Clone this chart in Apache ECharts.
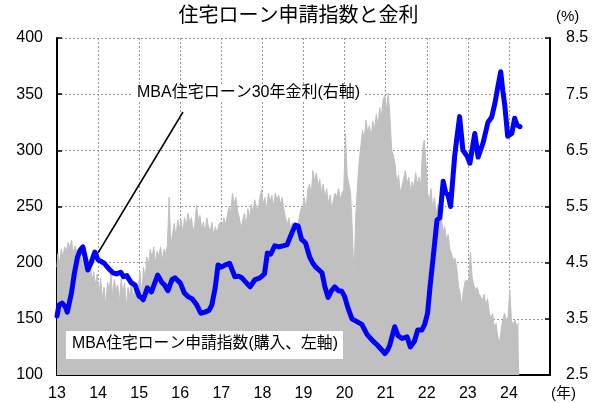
<!DOCTYPE html>
<html>
<head>
<meta charset="utf-8">
<script src="https://cdn.jsdelivr.net/npm/echarts@6/dist/echarts.min.js"></script>
<style>
  html, body { margin: 0; padding: 0; background: #fff; }
  #chart { width: 597px; height: 403px; }
</style>
</head>
<body>
<div id="chart"></div>
<script>
// MBA住宅ローン申請指数(購入) 半月ごと、2013年初から
const appStart = 2013;
const appPerYear = 24;
const appIndex = [
  196, 208, 200, 212, 205, 214, 210, 218, 213, 220, 208, 215, 210, 206, 212, 200, 204, 195, 202, 188, 197, 184, 192, 180,
  190, 172, 186, 168, 178, 162, 183, 175, 190, 170, 185, 176, 180, 165, 186, 172, 182, 160, 178, 170, 185, 166, 180, 174,
  178, 192, 170, 196, 185, 205, 198, 212, 204, 214, 200, 210, 206, 214, 202, 212, 208, 216, 258, 214, 226, 235, 222, 238,
  230, 238, 226, 240, 232, 244, 236, 240, 228, 234, 251, 238, 242, 230, 236, 226, 240, 232, 228, 236, 224, 232, 226, 234,
  236, 232, 240, 234, 242, 250, 244, 262, 252, 258, 246, 240, 230, 238, 244, 232, 248, 240, 252, 244, 256, 250, 246, 258,
  265, 252, 258, 246, 262, 254, 260, 250, 262, 256, 260, 252, 258, 248, 240, 234, 240, 230, 236, 228, 234, 232, 240, 248,
  250, 258, 246, 265, 270, 260, 282, 272, 280, 268, 274, 262, 270, 258, 266, 252, 260, 248, 256, 262, 258, 266, 256, 262,
  265, 315, 278, 270, 262, 230, 187, 240, 268, 290, 304, 318, 310, 327, 316, 322, 312, 326, 318, 332, 322, 338, 330, 345,
  349, 336, 351, 330, 300, 296, 288, 270, 278, 262, 268, 275, 282, 270, 276, 264, 272, 266, 280, 270, 276, 268, 300, 309,
  290, 262, 255, 266, 248, 258, 244, 252, 236, 240, 228, 232, 220, 225, 212, 208, 202, 204, 196, 180, 172, 162, 176, 184,
  184, 182, 209, 187, 180, 176, 178, 172, 170, 166, 172, 162, 168, 156, 150, 155, 142, 146, 134, 129, 140, 150, 155, 148,
  152, 176, 148, 145, 149, 143, 146
];

// MBA住宅ローン30年金利(%)
const rateDates = [
  2013.00, 2013.05, 2013.12, 2013.20, 2013.25, 2013.35, 2013.42, 2013.50, 2013.56, 2013.63,
  2013.70, 2013.75, 2013.83, 2013.92, 2014.00, 2014.08, 2014.15, 2014.25, 2014.36, 2014.45,
  2014.55, 2014.62, 2014.70, 2014.80, 2014.90, 2015.00, 2015.05, 2015.10, 2015.20, 2015.30,
  2015.45, 2015.55, 2015.62, 2015.70, 2015.80, 2015.87, 2016.00, 2016.10, 2016.20, 2016.30,
  2016.40, 2016.50, 2016.60, 2016.70, 2016.77, 2016.85, 2016.92, 2017.00, 2017.10, 2017.20,
  2017.33, 2017.42, 2017.50, 2017.60, 2017.70, 2017.82, 2017.94, 2018.05, 2018.12, 2018.20,
  2018.30, 2018.40, 2018.50, 2018.60, 2018.70, 2018.80, 2018.87, 2018.95, 2019.05, 2019.15,
  2019.22, 2019.30, 2019.45, 2019.52, 2019.60, 2019.68, 2019.76, 2019.85, 2019.93, 2020.00,
  2020.08, 2020.18, 2020.30, 2020.42, 2020.55, 2020.67, 2020.80, 2020.90, 2020.98, 2021.05,
  2021.10, 2021.22, 2021.30, 2021.40, 2021.52, 2021.60, 2021.70, 2021.78, 2021.88, 2021.95,
  2022.02, 2022.08, 2022.15, 2022.25, 2022.32, 2022.40, 2022.46, 2022.52, 2022.58, 2022.68,
  2022.73, 2022.80, 2022.88, 2022.98, 2023.05, 2023.17, 2023.25, 2023.37, 2023.49, 2023.58,
  2023.66, 2023.73, 2023.80, 2023.85, 2023.90, 2023.97, 2024.07, 2024.14, 2024.20, 2024.27
];
const rateValues = [
  3.55, 3.75, 3.78, 3.72, 3.62, 3.95, 4.30, 4.60, 4.72, 4.78,
  4.55, 4.37, 4.50, 4.69, 4.55, 4.52, 4.49, 4.40, 4.32, 4.30,
  4.33, 4.25, 4.27, 4.15, 4.10, 3.90, 3.88, 3.84, 4.05, 3.98,
  4.28, 4.15, 4.10, 4.00, 4.20, 4.23, 4.14, 3.96, 3.89, 3.85,
  3.75, 3.60, 3.62, 3.65, 3.75, 4.05, 4.46, 4.42, 4.46, 4.49,
  4.25, 4.26, 4.23, 4.15, 4.07, 4.20, 4.23, 4.30, 4.67, 4.65,
  4.80, 4.78, 4.80, 4.82, 5.00, 5.17, 5.15, 4.92, 4.85, 4.60,
  4.50, 4.42, 4.32, 4.07, 3.88, 4.00, 4.07, 4.00, 3.99, 3.90,
  3.70, 3.50, 3.45, 3.40, 3.22, 3.12, 3.03, 2.95, 2.88, 2.95,
  3.03, 3.36, 3.20, 3.15, 3.18, 3.00, 3.10, 3.30, 3.30, 3.40,
  3.60, 4.07, 4.55, 5.26, 5.30, 5.95, 5.75, 5.70, 5.50, 6.40,
  6.70, 7.10, 6.50, 6.40, 6.27, 6.80, 6.38, 6.63, 7.00, 7.09,
  7.34, 7.63, 7.90, 7.57, 7.30, 6.75, 6.80, 7.07, 6.95, 6.92
];

const chartTitle = '住宅ローン申請指数と金利';
const rateLabel = 'MBA住宅ローン30年金利(右軸)';
const appLabel = 'MBA住宅ローン申請指数(購入、左軸)';

const fontFam = '"Liberation Sans", Arial, "Noto Sans CJK JP", sans-serif';

const appData = appIndex.map((v, i) => [appStart + i / appPerYear, v]);
const rateData = rateDates.map((d, i) => [d, rateValues[i]]);

const myChart = echarts.init(document.getElementById('chart'));

const dotted = { show: true, lineStyle: { color: '#999', type: [2, 2], width: 1 } };

let option = {
    animation: false,
    backgroundColor: '#fff',
    textStyle: { fontFamily: fontFam },
    grid: { left: 57, right: 47, top: 38, bottom: 28 },
    xAxis: {
        type: 'value',
        min: 2013,
        max: 2025,
        interval: 1,
        axisLine: { show: true, onZero: false, lineStyle: { color: '#000', width: 2 } },
        axisTick: { show: true, inside: true, length: 6, lineStyle: { color: '#000', width: 2 } },
        axisLabel: {
            color: '#000', fontSize: 16, margin: 11, fontFamily: fontFam,
            formatter: function (v) { return v >= 2025 ? '' : String(v - 2000); }
        },
        splitLine: dotted
    },
    yAxis: [
        {
            type: 'value',
            min: 100,
            max: 400,
            interval: 50,
            axisLine: { show: true, lineStyle: { color: '#000', width: 2 } },
            axisTick: { show: true, inside: true, length: 5, lineStyle: { color: '#000', width: 1.5 } },
            axisLabel: { color: '#000', fontSize: 16, margin: 14, fontFamily: fontFam },
            splitLine: dotted
        },
        {
            type: 'value',
            position: 'right',
            min: 2.5,
            max: 8.5,
            interval: 1,
            axisLine: { show: true, lineStyle: { color: '#000', width: 2 } },
            axisTick: { show: true, inside: true, length: 5, lineStyle: { color: '#000', width: 1.5 } },
            axisLabel: {
                color: '#000', fontSize: 16, margin: 16, fontFamily: fontFam,
                formatter: function (v) { return v.toFixed(1); }
            },
            splitLine: { show: false }
        }
    ],
    series: [
        {
            name: appLabel,
            type: 'line',
            yAxisIndex: 0,
            data: appData,
            step: 'middle',
            symbol: 'none',
            lineStyle: { color: '#c0c0c0', width: 1 },
            areaStyle: { color: '#c0c0c0', opacity: 1 },
            z: 2
        },
        {
            name: rateLabel,
            type: 'line',
            yAxisIndex: 1,
            data: rateData,
            symbol: 'none',
            lineStyle: { color: '#0000ff', width: 5, cap: 'round', join: 'round' },
            z: 3
        }
    ],
    graphic: [
        {
            type: 'text', left: 'center', top: 6,
            style: { text: chartTitle, fontSize: 20, fill: '#000', fontFamily: fontFam }
        },
        {
            type: 'text', x: 556, y: 9,
            style: { text: '(%)', fontSize: 15, fill: '#000', fontFamily: fontFam }
        },
        {
            type: 'text', x: 551, y: 386,
            style: { text: '(年)', fontSize: 15, fill: '#000', fontFamily: fontFam }
        },
        {
            type: 'line', z: 100,
            shape: { x1: 183, y1: 112, x2: 98, y2: 253 },
            style: { stroke: '#000', lineWidth: 1.5 }
        },
        {
            type: 'text', z: 100, x: 133, y: 84,
            style: {
                text: rateLabel, fontSize: 16, fill: '#000', fontFamily: fontFam,
                backgroundColor: '#fff', padding: [1, 4]
            }
        },
        {
            type: 'rect', z: 100,
            shape: { x: 66, y: 331, width: 277, height: 28 },
            style: { fill: '#fff' }
        },
        {
            type: 'text', z: 101, x: 72, y: 336,
            style: { text: appLabel, fontSize: 15.8, fill: '#000', fontFamily: fontFam }
        }
    ]
};

myChart.setOption(option);
</script>
</body>
</html>
